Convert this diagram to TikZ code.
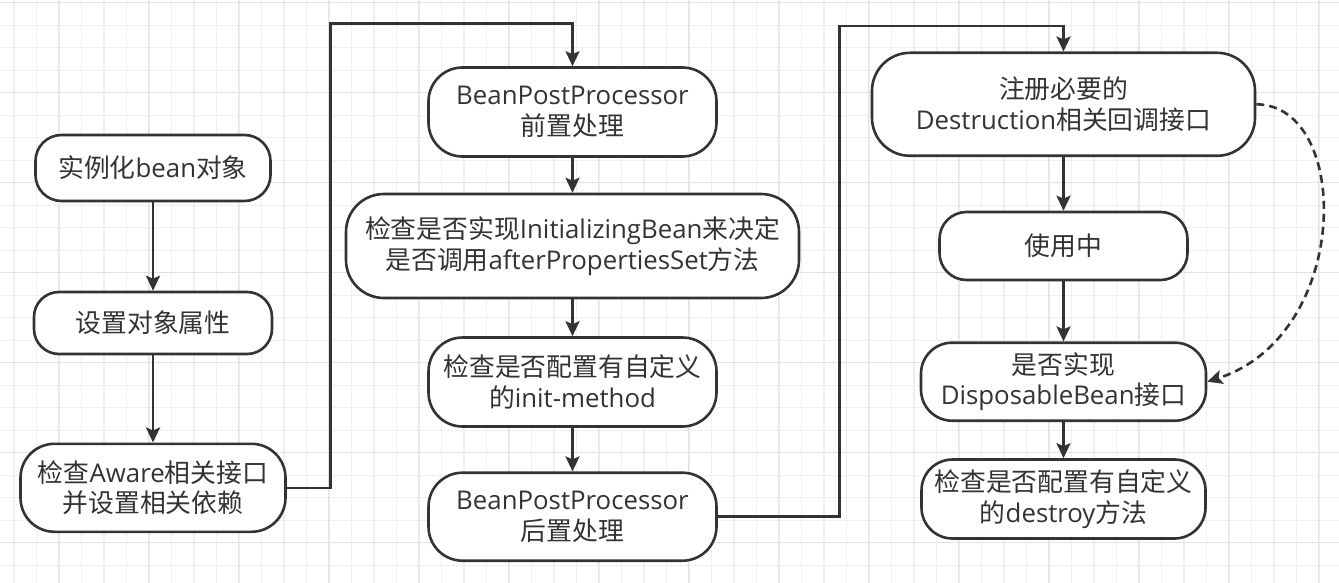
\documentclass[tikz,border=0pt]{standalone}
\usepackage{fontspec}
\setmainfont{Open Sans}
\newfontfamily\cjk{Noto Sans CJK SC}
\newcommand\zh[1]{{\cjk #1}}
\usetikzlibrary{arrows.meta}
\definecolor{ink}{HTML}{333333}
\definecolor{gridminor}{HTML}{EFEFEF}
\definecolor{gridmajor}{HTML}{E2E2E2}
\begin{document}
\begin{tikzpicture}[x=1pt,y=-1pt,
  box/.style={draw=ink, line width=2.6pt, fill=white, text=ink, align=center,
    inner sep=0pt, font=\fontsize{25.8}{30.5}\selectfont},
  arr/.style={draw=ink, line width=2.6pt, line join=miter,
    -{Stealth[length=15pt,width=14pt,inset=3pt]}},
  dasharr/.style={arr, dash pattern=on 8pt off 5pt},
  minorline/.style={draw=gridminor, line width=1.2pt},
  majorline/.style={draw=gridmajor, line width=1.2pt}]
\useasboundingbox (0,0) rectangle (1339,583);
\fill[white] (0,0) rectangle (1339,583);
% grid
\foreach \i in {0,...,59} \draw[minorline] ({14+22.5*\i},0) -- ({14+22.5*\i},583);
\foreach \j in {0,...,25} \draw[minorline] (0,{2.7+22.5*\j}) -- (1339,{2.7+22.5*\j});
\foreach \i in {0,...,14} \draw[majorline] ({58.5+90*\i},0) -- ({58.5+90*\i},583);
\foreach \j in {0,...,6} \draw[majorline] (0,{2.7+90*\j}) -- (1339,{2.7+90*\j});
% column 1
\node[box, minimum width=235pt, minimum height=66pt, rounded corners=26pt] (A) at (153,168) {\zh{实例化}bean\zh{对象}};
\node[box, minimum width=238pt, minimum height=62pt, rounded corners=25pt] (B) at (153,323) {\zh{设置对象属性}};
\node[box, minimum width=265pt, minimum height=88pt, rounded corners=34pt] (C) at (153,487.8) {\zh{检查}Aware\zh{相关接口}\\\zh{并设置相关依赖}};
% column 2
\node[box, minimum width=288pt, minimum height=89pt, rounded corners=34pt] (D) at (572.5,112) {BeanPostProcessor\\\zh{前置处理}};
\node[box, minimum width=453pt, minimum height=104pt, rounded corners=38pt] (E) at (572.5,246) {\zh{检查是否实现}InitializingBean\zh{来决定}\\\zh{是否调用}afterPropertiesSet\zh{方法}};
\node[box, minimum width=288pt, minimum height=89pt, rounded corners=34pt] (F) at (572.5,382) {\zh{检查是否配置有自定义}\\\zh{的}init-method};
\node[box, minimum width=288pt, minimum height=88pt, rounded corners=34pt] (G) at (572.5,516.7) {BeanPostProcessor\\\zh{后置处理}};
% column 3
\node[box, minimum width=383pt, minimum height=103pt, rounded corners=38pt] (H) at (1063.5,104.3) {\zh{注册必要的}\\Destruction\zh{相关回调接口}};
\node[box, minimum width=248pt, minimum height=68pt, rounded corners=27pt] (I) at (1063.5,246) {\zh{使用中}};
\node[box, minimum width=285pt, minimum height=78pt, rounded corners=31pt] (J) at (1063.5,381.7) {\zh{是否实现}\\DisposableBean\zh{接口}};
\node[box, minimum width=284pt, minimum height=79pt, rounded corners=31pt] (K) at (1063.5,499) {\zh{检查是否配置有自定义}\\\zh{的}destroy\zh{方法}};
% routing points
\coordinate (c1) at (330.5,23.5);
\coordinate (c2) at (839.3,26);
% connectors
\draw[arr] (A) -- (B);
\draw[arr] (B) -- (C);
\draw[arr] (C.east) -| (c1) -| (D.north);
\draw[arr] (D) -- (E);
\draw[arr] (E) -- (F);
\draw[arr] (F) -- (G);
\draw[arr] (G.east) -| (c2) -| (H.north);
\draw[arr] (H) -- (I);
\draw[arr] (I) -- (J);
\draw[arr] (J) -- (K);
\draw[dasharr] (H.east) .. controls (1352,105) and (1352,335) .. (J.east);
\end{tikzpicture}
\end{document}
